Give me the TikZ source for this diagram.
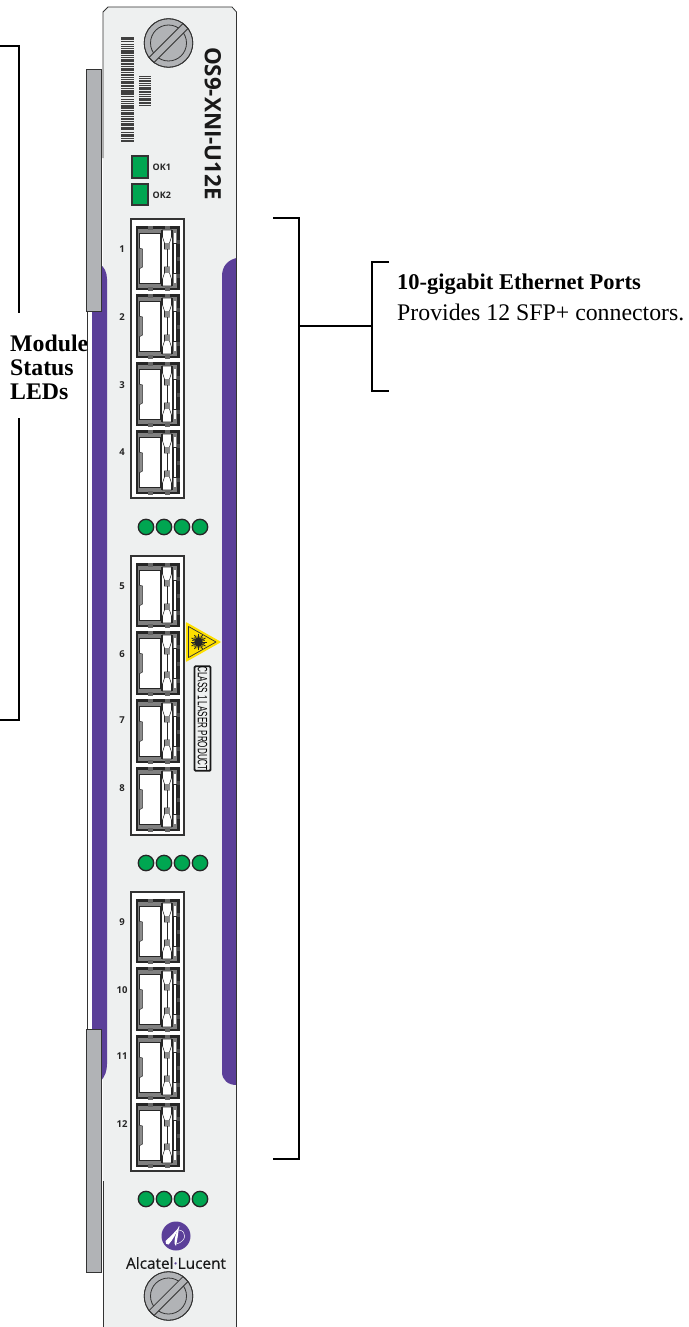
\documentclass[tikz,border=0pt]{standalone}
\usepackage{fontspec}
\setmainfont{Liberation Serif}
\newfontfamily\panelfont{Open Sans}
\newfontfamily\brandfont[FakeBold=0.5]{Open Sans}
\newfontfamily\condfont{Liberation Sans}
\definecolor{panelgray}{HTML}{EEF0F0}
\definecolor{railgray}{HTML}{B1B3B6}
\definecolor{bandpurple}{HTML}{5B3F99}
\definecolor{ledgreen}{HTML}{00A651}
\definecolor{edge}{HTML}{333333}
\definecolor{lasery}{HTML}{FFE000}
\tikzset{
  x=1pt,y=-1pt,
  bracket/.style={draw=black,line width=1.3pt},
  rail/.style={draw=edge,fill=railgray,line width=.7pt},
  cagebox/.style={draw=edge,fill=white,line width=1.3pt},
  ledsq/.style={draw=edge,fill=ledgreen,line width=1.2pt},
  leddot/.style={draw=black!85,fill=ledgreen,line width=1.3pt},
  portnum/.style={font=\panelfont\bfseries\fontsize{9.5}{10}\selectfont,text=black!85,inner sep=0pt},
  oklabel/.style={font=\panelfont\bfseries\fontsize{9}{10}\selectfont,text=black!85,inner sep=0pt,anchor=west},
  callout/.style={font=\fontsize{23.8}{24}\selectfont,inner sep=0pt,anchor=west},
  pics/screw/.style={code={
    \fill[railgray,draw=edge,line width=.8pt] (0,0) circle (24.3);
    \draw[edge,line width=.8pt] (0,0) circle (18);
    \draw[fill=railgray,draw=edge,line width=.8pt,rotate=45] (-24,-3.5) -- (24,-3.5) -- (24,3.5) -- (-24,3.5) -- cycle;
    \draw[edge,line width=.8pt] (0,0) circle (24.3);
  }},
  pics/sfp/.style={code={
    \fill[black!85] (0,0) rectangle (44,64);
    \fill[black!50] (2.5,2.5) rectangle (41.5,61.5);
    \fill[white] (3.5,7) rectangle (24.5,57);
    \draw[black!85,line width=.7pt] (3.5,7) rectangle (24.5,57);
    \draw[black!80,line width=.5pt,fill=black!45] (3.5,22) -- (7,23) -- (7,41) -- (3.5,43) -- cycle;
    \fill[white] (26,4) rectangle (36.5,60);
    \draw[black!85,line width=.6pt,fill=white] (27,4) -- (36,4) -- (36,11) -- (34,17) -- (34,23) -- (29,23) -- (29,17) -- (27,11) -- cycle;
    \draw[black!85,line width=.6pt,fill=white] (27,60) -- (36,60) -- (36,53) -- (34,47) -- (34,41) -- (29,41) -- (29,47) -- (27,53) -- cycle;
    \fill[black!45] (29,17) rectangle (34,23);
    \fill[black!45] (29,41) rectangle (34,47);
    \draw[black!85,line width=.7pt] (31.5,23) -- (31.5,41);
    \draw[black!85,line width=.6pt] (25.5,4) -- (25.5,60) (37,4) -- (37,60);
    \fill[white] (38,7) rectangle (40.5,57);
    \draw[black!85,line width=.9pt] (38,17) rectangle (40.5,47);
    \foreach \ny in {14,31,48} \fill[black!70] (41.5,\ny) rectangle (44.5,\ny+4);
    \foreach \nx in {12,29} {
      \fill[black!60] (\nx,-.5) rectangle (\nx+5,3.5);
      \fill[black!60] (\nx,60.5) rectangle (\nx+5,64.5);
    }
  }}
}
\newcommand{\barsat}[4]{%
  \foreach \bh [count=\bi from 0] in {#4} {
    \fill[black!75] (#1,#2+\bi*2.2) rectangle (#3,#2+\bi*2.2+\bh);
  }}
\begin{document}
\begin{tikzpicture}
\useasboundingbox (0,0) rectangle (688,1327);
% panel
\fill[panelgray] (103,12) -- (108,7) -- (232,7) -- (236.5,12) -- (236.5,1327) -- (103,1327) -- cycle;
\draw[edge,line width=.8pt] (103,158) -- (103,12) -- (108,7) -- (232,7) -- (236.5,12) -- (236.5,1327);
\draw[edge,line width=.8pt] (103,1181) -- (103,1327);
% purple bands
\fill[bandpurple] (92,262) -- (100,264) .. controls (104,267) and (107,272) .. (107,279) -- (107,1064) .. controls (107,1071) and (105,1076) .. (101,1081) -- (92,1081) -- cycle;
\fill[bandpurple] (236.5,258) .. controls (228,260) and (222,266) .. (222,276) -- (222,1072) .. controls (222,1080) and (228,1085) .. (236.5,1085) -- cycle;
\draw[edge,line width=.8pt] (236.5,250) -- (236.5,1100);
% rails
\draw[rail] (86.5,69) rectangle (101.5,311);
\draw[rail] (86.5,1029) rectangle (101.5,1272);
% screws
\pic at (168.5,43) {screw};
\pic at (168.5,1296) {screw};
% barcodes
\barsat{121}{37}{134}{1.6,1.2,.8,1.8,1.2,.7,1.8,1.8,.8,1.3,1.9,.8,1.4,1.8,1.8,.7,1.3,1.8,1.1,.8,1.8,1.3,1.8,.8,1.8,1.8,1.2,.7,1.8,1.4,.8,1.8,1.2,1.8,1.8,.8,1.3,1.8,.8,1.8,1.2,1.8,.7,1.4,1.8,1.1,.8,1.4}
\barsat{139}{76}{151}{.9,1.2,1.8,.8,1.4,1.8,.8,1.3,1.8,1.1,1.8,.8,1.5,1.8}
% model
\node[font=\panelfont\bfseries\fontsize{22.4}{24}\selectfont,rotate=-90,inner sep=0pt,text=black!90] (model) at (213,123.5) {OS9-XNI-U12E};
% status
\draw[ledsq] (132,156) rectangle (148,178);
\draw[ledsq] (132,184) rectangle (148,205);
\node[oklabel] (ok1) at (152.5,167) {OK1};
\node[oklabel] (ok2) at (152.5,195) {OK2};
% cages
\foreach \gy in {219,556,892} {
  \draw[cagebox] (131,\gy) rectangle (184,\gy+279);
  \foreach \po in {7,75,143,211} {
    \pic at (135.5,\gy+\po) {sfp};
  }
}
% port numbers
\foreach \lab/\ly in {1/249,2/317,3/385,4/452,5/586,6/654,7/720,8/788,9/922,10/990,11/1056,12/1124} {
  \node[portnum] (p\lab) at (122,\ly) {\lab};
}
% LEDs
\foreach \ly in {527,863,1199} {
  \foreach \lx in {146,164,182,200} {
    \draw[leddot] (\lx,\ly) circle (7.7);
  }
}
% laser
\draw[fill=lasery,draw=lasery,line width=1.2pt,line join=round] (186.5,623) -- (220,642) -- (186.5,661) -- cycle;
\draw[edge,line width=.7pt,line join=round] (188.5,626.5) -- (216,642) -- (188.5,657.5) -- cycle;
\fill[black!85] (198.5,642) circle (4.2);
\foreach \ra in {0,30,...,330} \draw[black!85,line width=.9pt] (198.5,642) -- ++(\ra:8);
\foreach \ra in {15,45,...,345} \draw[black!85,line width=.6pt] (198.5,642) -- ++(\ra:6.5);
\node[draw=black!90,fill=panelgray,line width=1.8pt,rounded corners=1pt,minimum width=103pt,minimum height=16pt,inner sep=0pt,rotate=-90] (laserlabel) at (202.5,718.5) {\condfont\fontsize{13.5}{14}\selectfont\scalebox{.6}[1]{CLASS 1 LASER PRODUCT}};
% logo
\fill[bandpurple] (176,1236) circle (14.5);
\fill[white] (165.5,1241) .. controls (170,1237) and (176,1231) .. (180,1226) .. controls (176,1233) and (173,1240) .. (168.5,1244.5) .. controls (166.5,1245) and (165,1243) .. (165.5,1241) -- cycle;
\fill[white] (179,1226) .. controls (178.5,1233) and (177,1241) .. (176,1246) .. controls (175,1245) and (174,1243) .. (174.5,1241) .. controls (175,1236) and (177,1231) .. (179,1226) -- cycle;
\draw[white,line width=.5pt] (179,1230) .. controls (187,1231) and (187,1241) .. (176.5,1244);
\node[font=\brandfont\fontsize{15.4}{18}\selectfont,inner sep=0pt,text=black!90] (brand) at (176,1263) {Alcatel\textcolor{bandpurple}{·}Lucent};
% callouts
\draw[bracket] (0,46) -- (19,46) -- (19,313);
\draw[bracket] (19,418) -- (19,720) -- (0,720);
\begin{scope}
\clip (0,320) rectangle (87,410);
\node[callout,font=\bfseries\fontsize{23.8}{24}\selectfont,align=left] (status) at (10,367) {Module\\Status\\LEDs};
\end{scope}
\draw[edge,line width=.7pt] (87.5,311) -- (87.5,1029);
\coordinate (bt) at (273,218);
\coordinate (bb) at (273,1159);
\coordinate (bm) at (299,326);
\coordinate (ct) at (389,262);
\coordinate (cb) at (389,391);
\coordinate (cm) at (372,326);
\draw[bracket] (bt) -- (299,218) -- (299,1159) -- (bb);
\draw[bracket] (bm) -- (cm);
\draw[bracket] (ct) -- (372,262) -- (372,391) -- (cb);
\node[callout,font=\bfseries\fontsize{22.5}{24}\selectfont] (title) at (397,284) {10-gigabit Ethernet Ports};
\node[callout] (desc) at (397,312) {Provides 12 SFP+ connectors.};
\end{tikzpicture}
\end{document}
